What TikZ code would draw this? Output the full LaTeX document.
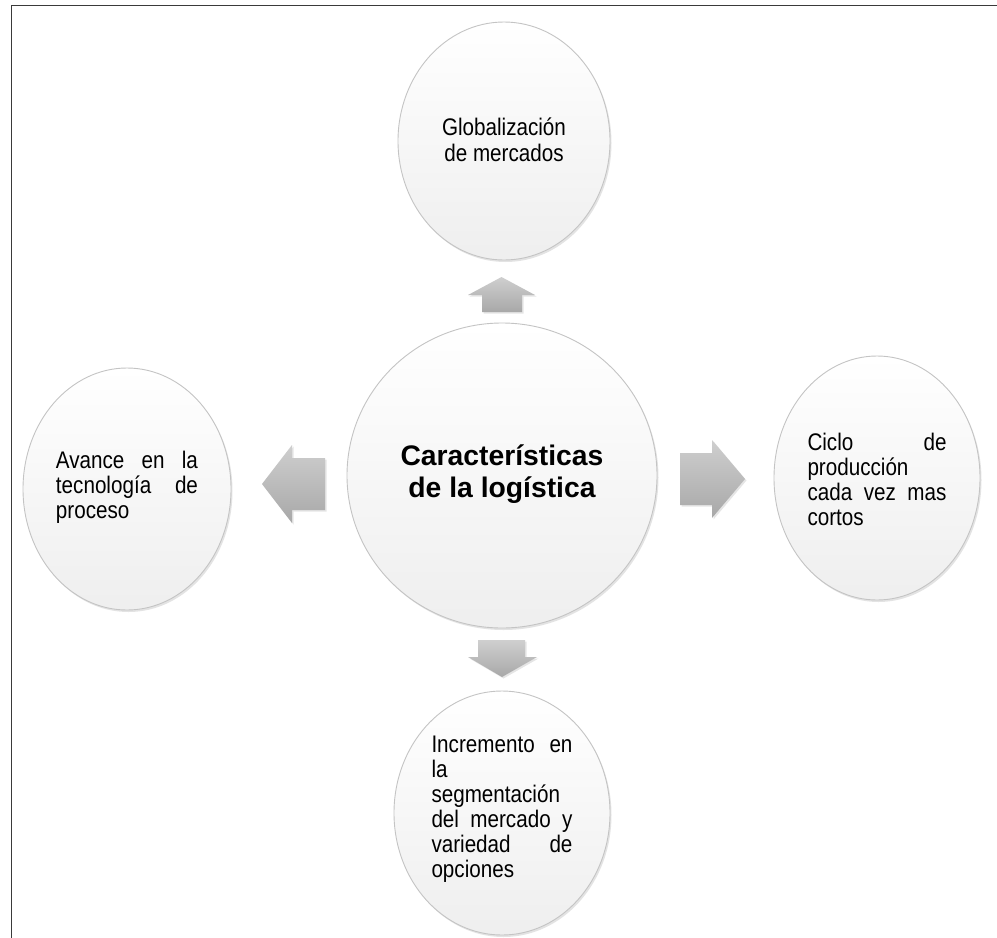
\documentclass[tikz,border=0pt]{standalone}
\usepackage{fontspec}
\setmainfont{Liberation Sans}
\newfontfamily\narrowfont[FakeStretch=0.86]{Liberation Sans}
\usetikzlibrary{shapes.geometric,shadows}
\definecolor{rim}{HTML}{C4C4C4}
\definecolor{arrlight}{HTML}{CFCFCF}
\definecolor{arrdark}{HTML}{A8A8A8}
\definecolor{framecol}{HTML}{3A3A3A}
\begin{document}
\begin{tikzpicture}[x=1pt,y=-1pt,
  bubble/.style={ellipse, draw=rim, line width=0.9pt, inner sep=0pt,
    top color=white, bottom color=gray!13,
    drop shadow={opacity=0.22, shadow xshift=1.5pt, shadow yshift=-2pt}},
  txt/.style={font=\narrowfont\fontsize{24}{25}\selectfont, align=left, text=black, inner sep=0pt},
  ctxt/.style={font=\narrowfont\fontsize{24}{25.5}\selectfont, align=center, text=black, inner sep=0pt},
  btxt/.style={font=\bfseries\fontsize{28.3}{32}\selectfont, align=center, text=black, inner sep=0pt},
  blk/.style={top color=arrlight, bottom color=arrdark, draw=none,
    drop shadow={opacity=0.2, shadow xshift=1.5pt, shadow yshift=-1.5pt}}
]
\useasboundingbox (0,0) rectangle (997,938);
\fill[white] (0,0) rectangle (997,938);
\draw[framecol, line width=1.5pt] (11.5,938) -- (11.5,5.5) -- (997,5.5);

% circles
\node[bubble, minimum width=212pt, minimum height=238pt] (T) at (504,141) {};
\node[bubble, minimum width=310pt, minimum height=305pt] (C) at (502,475.5) {};
\node[bubble, minimum width=208pt, minimum height=242pt] (L) at (127,489) {};
\node[bubble, minimum width=206pt, minimum height=244pt] (R) at (877,478) {};
\node[bubble, minimum width=216pt, minimum height=244pt] (B) at (502,813) {};

% texts
\node[ctxt] (Tt) at ([yshift=1pt]T.center) {Globalización\\de mercados};
\node[btxt] (Ct) at ([yshift=1.5pt]C.center) {Características\\de la logística};
\node[txt, text width=142pt] (Lt) at ([yshift=2pt]L.center)
  {Avance\hfill en\hfill la\\tecnología\hfill de\\proceso};
\node[txt, text width=139pt] (Rt) at ([yshift=-1pt]R.center)
  {Ciclo\hfill de\\producción\\cada\hfill vez\hfill mas\\cortos};
\node[txt, text width=141pt] (Bt) at ([yshift=4pt]B.center)
  {Incremento\hfill en\\la\\segmentación\\del\hfill mercado\hfill y\\variedad\hfill de\\opciones};

% block arrows
\path[blk] (482,312) -- (482,295) -- (468,295) -- (501.5,277) -- (535,295) -- (522,295) -- (522,312) -- cycle;
\path[blk] (478,640) -- (525,640) -- (525,657) -- (537,657) -- (502,677) -- (468,657) -- (478,657) -- cycle;
\path[blk] (325,458) -- (325,510) -- (292,510) -- (292,523) -- (262,484) -- (292,445) -- (292,458) -- cycle;
\path[blk] (680,453) -- (712,453) -- (712,440) -- (745,479) -- (712,518) -- (712,505) -- (680,505) -- cycle;
\end{tikzpicture}
\end{document}
